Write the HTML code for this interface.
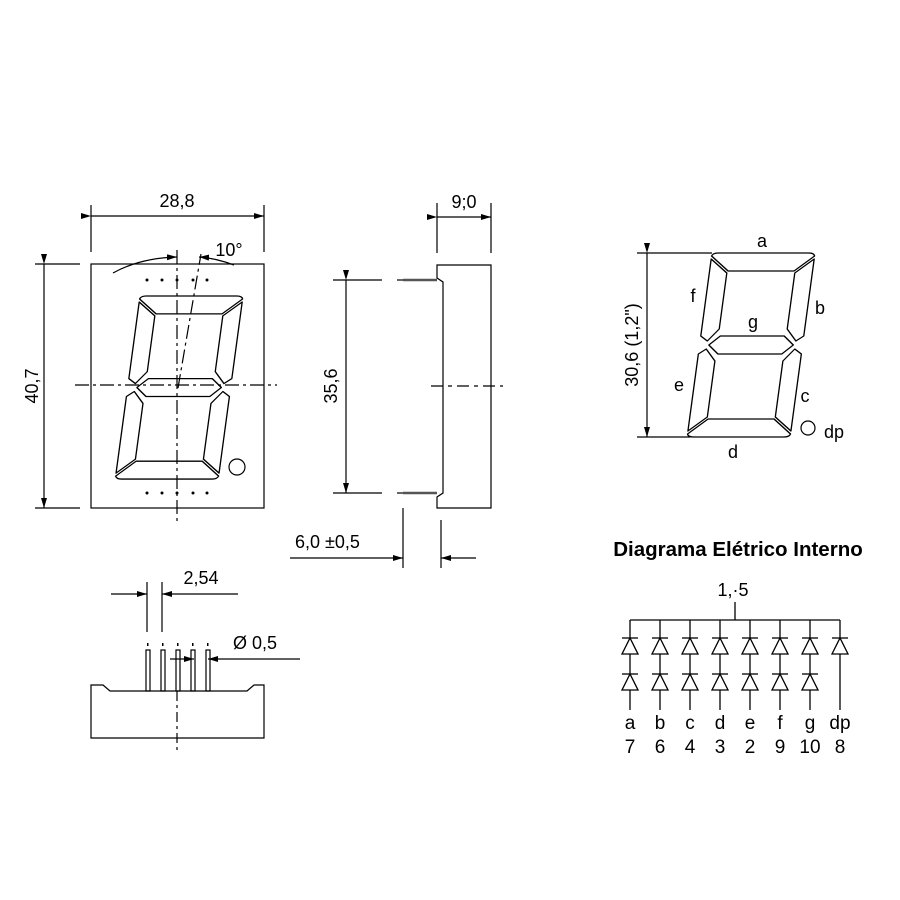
<!DOCTYPE html>
<html><head><meta charset="utf-8"><style>
html,body{margin:0;padding:0;background:#fff}
svg{display:block}
text{font-family:"Liberation Sans",Arial,sans-serif;fill:#000}
</style></head><body>
<svg width="900" height="900" viewBox="0 0 900 900" xmlns="http://www.w3.org/2000/svg">
<defs>
<g id="digit" fill="none" stroke="#000" stroke-width="1.3" stroke-linejoin="round">
<path d="M6,0 H94 Q99,0 100,3 L82,18 H18 L0,3 Q1,0 6,0 Z"/>
<path d="M0,6 L17,20 L17,76 L7,88 L0,83 Z"/>
<path d="M100,6 L83,20 L83,76 L93,88 L100,83 Z"/>
<path d="M9,92 L19,83 H81 L91,92 L81,101 H19 Z"/>
<path d="M0,101 L7,96 L17,108 L17,164 L0,178 Z"/>
<path d="M100,101 L93,96 L83,108 L83,164 L100,178 Z"/>
<path d="M6,184 H94 Q99,184 100,181 L82,166 H18 L0,181 Q1,184 6,184 Z"/>
</g>
<marker id="ar" viewBox="0 0 10 6" refX="10" refY="3" markerWidth="10" markerHeight="6" orient="auto" markerUnits="userSpaceOnUse"><path d="M0,0 L10,3 L0,6 Z" fill="#000"/></marker>
</defs>

<g stroke="#000" stroke-width="1.2" fill="none">
<rect x="91" y="264" width="173" height="244"/>
<line x1="91" y1="205" x2="91" y2="252"/><line x1="264" y1="205" x2="264" y2="252"/>
<line x1="91" y1="216" x2="264" y2="216" marker-start="url(#ar)" marker-end="url(#ar)"/>
<line x1="35" y1="264" x2="80" y2="264"/><line x1="35" y1="508" x2="80" y2="508"/>
<line x1="44" y1="264" x2="44" y2="508" marker-start="url(#ar)" marker-end="url(#ar)"/>
<line x1="177" y1="250" x2="177" y2="522" stroke-dasharray="14,4,3,4"/>
<line x1="75" y1="385" x2="277" y2="385" stroke-dasharray="14,4,3,4"/>
<line x1="178" y1="388" x2="201" y2="254" stroke-dasharray="14,4,3,4"/>
<path d="M113,273 Q140,258 177,257" marker-end="url(#ar)"/>
<path d="M234,265 Q215,258 199,257" marker-end="url(#ar)"/>
<circle cx="237" cy="467" r="8"/>
</g>
<g fill="#000">
<circle cx="147" cy="280" r="1.5"/><circle cx="162" cy="280" r="1.5"/><circle cx="177" cy="280" r="1.5"/><circle cx="193" cy="280" r="1.5"/><circle cx="207" cy="280" r="1.5"/>
<circle cx="147" cy="493" r="1.5"/><circle cx="162" cy="493" r="1.5"/><circle cx="177" cy="493" r="1.5"/><circle cx="193" cy="493" r="1.5"/><circle cx="207" cy="493" r="1.5"/>
</g>
<use href="#digit" transform="translate(140,296) skewX(-7.7) scale(1.03,0.995)"/>
<text x="177" y="207" font-size="18" text-anchor="middle">28,8</text>
<text x="229" y="256" font-size="18" text-anchor="middle">10°</text>
<text transform="translate(38,386) rotate(-90)" font-size="18" text-anchor="middle">40,7</text>

<g stroke="#000" stroke-width="1.2" fill="none">
<path d="M437,265 H491 V508 H437 V497 L443,493 V282 L437,278 Z"/>
<line x1="403" y1="280" x2="437" y2="280" stroke-width="2.5" stroke="#555"/>
<line x1="403" y1="493" x2="437" y2="493" stroke-width="2.5" stroke="#555"/>
<line x1="333" y1="280" x2="382" y2="280"/><line x1="397" y1="280" x2="403" y2="280"/>
<line x1="333" y1="493" x2="382" y2="493"/><line x1="397" y1="493" x2="403" y2="493"/>
<line x1="346" y1="280" x2="346" y2="493" marker-start="url(#ar)" marker-end="url(#ar)"/>
<line x1="431" y1="386" x2="503" y2="386" stroke-dasharray="12,5,4,5"/>
<line x1="437" y1="203" x2="437" y2="253"/><line x1="491" y1="203" x2="491" y2="253"/>
<line x1="437" y1="217" x2="491" y2="217" marker-start="url(#ar)" marker-end="url(#ar)"/>
<line x1="403" y1="508" x2="403" y2="568"/><line x1="441" y1="520" x2="441" y2="568"/>
<line x1="290" y1="558" x2="403" y2="558" marker-end="url(#ar)"/>
<line x1="476" y1="558" x2="441" y2="558" marker-end="url(#ar)"/>
</g>
<text x="464" y="208" font-size="18" text-anchor="middle">9;0</text>
<text transform="translate(337,386) rotate(-90)" font-size="18" text-anchor="middle">35,6</text>
<text x="295" y="548" font-size="18">6,0 ±0,5</text>

<g stroke="#000" stroke-width="1.2" fill="none">
<path d="M91,685 H103 L110,691 H247 L254,685 H264 V738 H91 Z"/>
<rect x="146" y="650" width="4" height="41"/><rect x="161" y="650" width="4" height="41"/><rect x="176" y="650" width="4" height="41"/><rect x="191" y="650" width="4" height="41"/><rect x="206" y="650" width="4" height="41"/>
<line x1="177" y1="691" x2="177" y2="752" stroke-dasharray="10,4,3,4"/>
<line x1="147" y1="582" x2="147" y2="632"/><line x1="162" y1="582" x2="162" y2="632"/>
<line x1="111" y1="594" x2="147" y2="594" marker-end="url(#ar)"/>
<line x1="238" y1="594" x2="162" y2="594" marker-end="url(#ar)"/>
<line x1="170" y1="659" x2="194" y2="659" marker-end="url(#ar)"/>
<line x1="300" y1="659" x2="208" y2="659" marker-end="url(#ar)"/>
</g>
<g fill="#000"><rect x="147" y="643" width="1.5" height="3"/><rect x="162" y="643" width="1.5" height="3"/><rect x="177" y="643" width="1.5" height="3"/><rect x="192" y="643" width="1.5" height="3"/><rect x="207" y="643" width="1.5" height="3"/></g>
<text x="201" y="584" font-size="18" text-anchor="middle">2,54</text>
<text x="255" y="649" font-size="18" text-anchor="middle">Ø 0,5</text>

<use href="#digit" transform="translate(712,253) skewX(-7.7) scale(1.03,1)"/>
<g stroke="#000" stroke-width="1.2" fill="none">
<line x1="637" y1="253" x2="712" y2="253"/><line x1="637" y1="437" x2="690" y2="437"/>
<line x1="647" y1="253" x2="647" y2="437" marker-start="url(#ar)" marker-end="url(#ar)"/>
<circle cx="808" cy="428" r="7"/>
</g>
<text transform="translate(638,345) rotate(-90)" font-size="18" text-anchor="middle">30,6 (1,2")</text>
<g font-size="18" text-anchor="middle">
<text x="762" y="247">a</text><text x="820" y="314">b</text><text x="693" y="302">f</text><text x="753" y="328">g</text><text x="679" y="391">e</text><text x="805" y="402">c</text><text x="733" y="458">d</text><text x="834" y="438">dp</text>
</g>

<text x="738" y="556" font-size="20.5" font-weight="bold" text-anchor="middle">Diagrama Elétrico Interno</text>
<text x="733" y="596" font-size="18" text-anchor="middle">1,·5</text>
<g stroke="#000" stroke-width="1.3" fill="none">
<line x1="735" y1="602" x2="735" y2="620"/>
<line x1="630" y1="620" x2="840" y2="620"/>
<g id="col">
<line x1="630" y1="620" x2="630" y2="710"/>
<line x1="622" y1="638" x2="638" y2="638"/><path d="M622,654 L638,654 L630,638 Z" fill="#fff"/>
<line x1="622" y1="674" x2="638" y2="674"/><path d="M622,690 L638,690 L630,674 Z" fill="#fff"/>
</g>
<use href="#col" x="30"/><use href="#col" x="60"/><use href="#col" x="90"/><use href="#col" x="120"/><use href="#col" x="150"/><use href="#col" x="180"/>
<line x1="840" y1="620" x2="840" y2="710"/>
<line x1="832" y1="638" x2="848" y2="638"/><path d="M832,654 L848,654 L840,638 Z" fill="#fff"/>
</g>
<g font-size="19" text-anchor="middle">
<text x="630" y="729">a</text><text x="660" y="729">b</text><text x="690" y="729">c</text><text x="720" y="729">d</text><text x="750" y="729">e</text><text x="780" y="729">f</text><text x="810" y="729">g</text><text x="840" y="729">dp</text>
<text x="630" y="753">7</text><text x="660" y="753">6</text><text x="690" y="753">4</text><text x="720" y="753">3</text><text x="750" y="753">2</text><text x="780" y="753">9</text><text x="810" y="753">10</text><text x="840" y="753">8</text>
</g>
</svg>
</body></html>
